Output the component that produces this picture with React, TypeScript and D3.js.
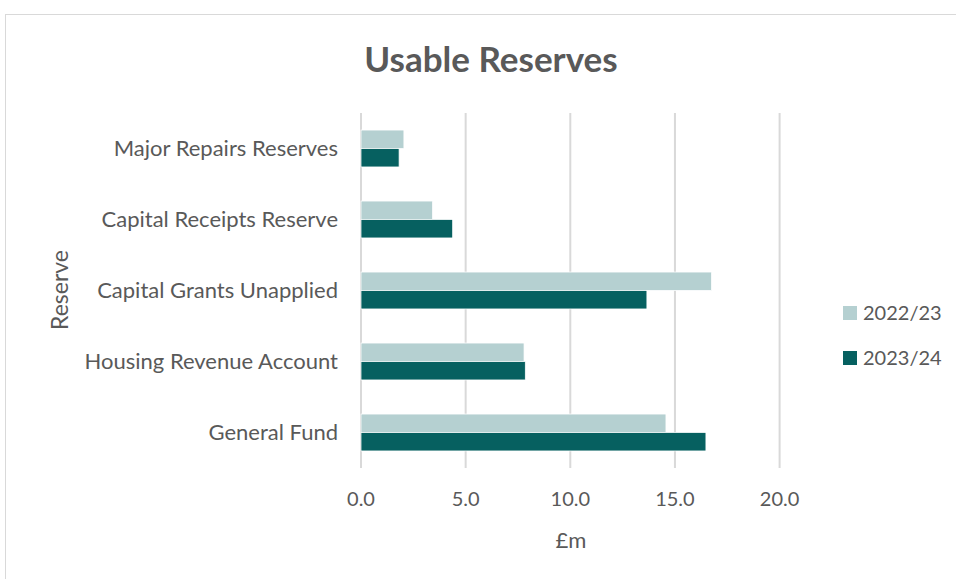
import React, { useRef, useEffect } from 'react';
import * as d3 from 'd3';

const categories = [
  'Major Repairs Reserves',
  'Capital Receipts Reserve',
  'Capital Grants Unapplied',
  'Housing Revenue Account',
  'General Fund',
];
const seriesNames = ['2022/23', '2023/24'];
const values2223 = [2.05, 3.42, 16.75, 7.79, 14.57];
const values2324 = [1.82, 4.38, 13.66, 7.85, 16.48];
const xTicks = [0, 5, 10, 15, 20];
const colors = ['#b5d0d1', '#066060'];

const FONT = 'Lato, "Open Sans", sans-serif';
const TEXT = '#595959';

const App = () => {
  const ref = useRef<SVGSVGElement | null>(null);
  const width = 956;
  const height = 579;
  const margin = { top: 113, bottom: 111, left: 361 };

  useEffect(() => {
    if (!ref.current) return;
    const svg = d3.select(ref.current);
    svg.selectAll('*').remove();

    // chart frame, runs off the right and bottom of the picture
    svg
      .append('rect')
      .attr('x', 5.5)
      .attr('y', 14.5)
      .attr('width', 1000)
      .attr('height', 1000)
      .attr('fill', '#fff')
      .attr('stroke', '#d9d9d9');

    const x = d3
      .scaleLinear()
      .domain([0, 20])
      .range([margin.left, margin.left + 418.6]);

    const y = d3
      .scaleBand()
      .domain(categories)
      .range([margin.top, height - margin.bottom])
      .paddingInner(0.48)
      .paddingOuter(0.24);

    const inner = d3
      .scaleBand()
      .domain(seriesNames)
      .range([0, y.bandwidth()]);

    // gridlines
    svg
      .append('g')
      .selectAll('line')
      .data(xTicks)
      .join('line')
      .attr('x1', (d) => x(d))
      .attr('x2', (d) => x(d))
      .attr('y1', margin.top)
      .attr('y2', height - margin.bottom)
      .attr('stroke', '#d9d9d9')
      .attr('stroke-width', 2);

    // tick labels
    svg
      .append('g')
      .selectAll('text')
      .data(xTicks)
      .join('text')
      .attr('x', (d) => x(d))
      .attr('y', 506)
      .attr('text-anchor', 'middle')
      .attr('font-family', FONT)
      .attr('font-size', 20)
      .attr('fill', TEXT)
      .text((d) => d3.format('.1f')(d));

    const rows = categories.map((c, i) => ({
      cat: c,
      vals: [values2223[i], values2324[i]],
    }));

    const groups = svg
      .append('g')
      .selectAll('g')
      .data(rows)
      .join('g')
      .attr('transform', (d) => `translate(0,${y(d.cat)})`);

    groups
      .selectAll('rect')
      .data((d) => d.vals.map((v, j) => ({ v, s: seriesNames[j], j })))
      .join('rect')
      .attr('x', x(0))
      .attr('y', (d) => inner(d.s) ?? 0)
      .attr('width', (d) => x(d.v) - x(0))
      .attr('height', inner.bandwidth())
      .attr('fill', (d) => colors[d.j])
      .attr('stroke', '#fff')
      .attr('stroke-width', 0.75);

    // category labels
    svg
      .append('g')
      .selectAll('text')
      .data(categories)
      .join('text')
      .attr('x', 338)
      .attr('y', (d) => (y(d) ?? 0) + y.bandwidth() / 2)
      .attr('dy', '0.35em')
      .attr('text-anchor', 'end')
      .attr('font-family', FONT)
      .attr('font-size', 22)
      .attr('fill', TEXT)
      .text((d) => d);

    // title
    svg
      .append('text')
      .attr('x', 491)
      .attr('y', 72)
      .attr('text-anchor', 'middle')
      .attr('font-family', FONT)
      .attr('font-size', 35)
      .attr('font-weight', 'bold')
      .attr('fill', TEXT)
      .text('Usable Reserves');

    // axis titles
    svg
      .append('text')
      .attr('x', 571)
      .attr('y', 548)
      .attr('text-anchor', 'middle')
      .attr('font-family', FONT)
      .attr('font-size', 22)
      .attr('fill', TEXT)
      .text('£m');

    svg
      .append('text')
      .attr('transform', 'translate(68,290) rotate(-90)')
      .attr('text-anchor', 'middle')
      .attr('font-family', FONT)
      .attr('font-size', 23)
      .attr('fill', TEXT)
      .text('Reserve');

    // legend
    const legend = svg
      .append('g')
      .selectAll('g')
      .data(seriesNames)
      .join('g')
      .attr('transform', (d, i) => `translate(843,${306 + i * 45})`);
    legend
      .append('rect')
      .attr('width', 14)
      .attr('height', 14)
      .attr('fill', (d, i) => colors[i]);
    legend
      .append('text')
      .attr('x', 20)
      .attr('y', 7)
      .attr('dy', '0.35em')
      .attr('font-family', FONT)
      .attr('font-size', 20)
      .attr('fill', TEXT)
      .text((d) => d);
  }, []);

  return (
    <svg
      ref={ref}
      width={width}
      height={height}
      style={{ position: 'absolute', left: 0, top: 0 }}
    />
  );
};

export default App;
